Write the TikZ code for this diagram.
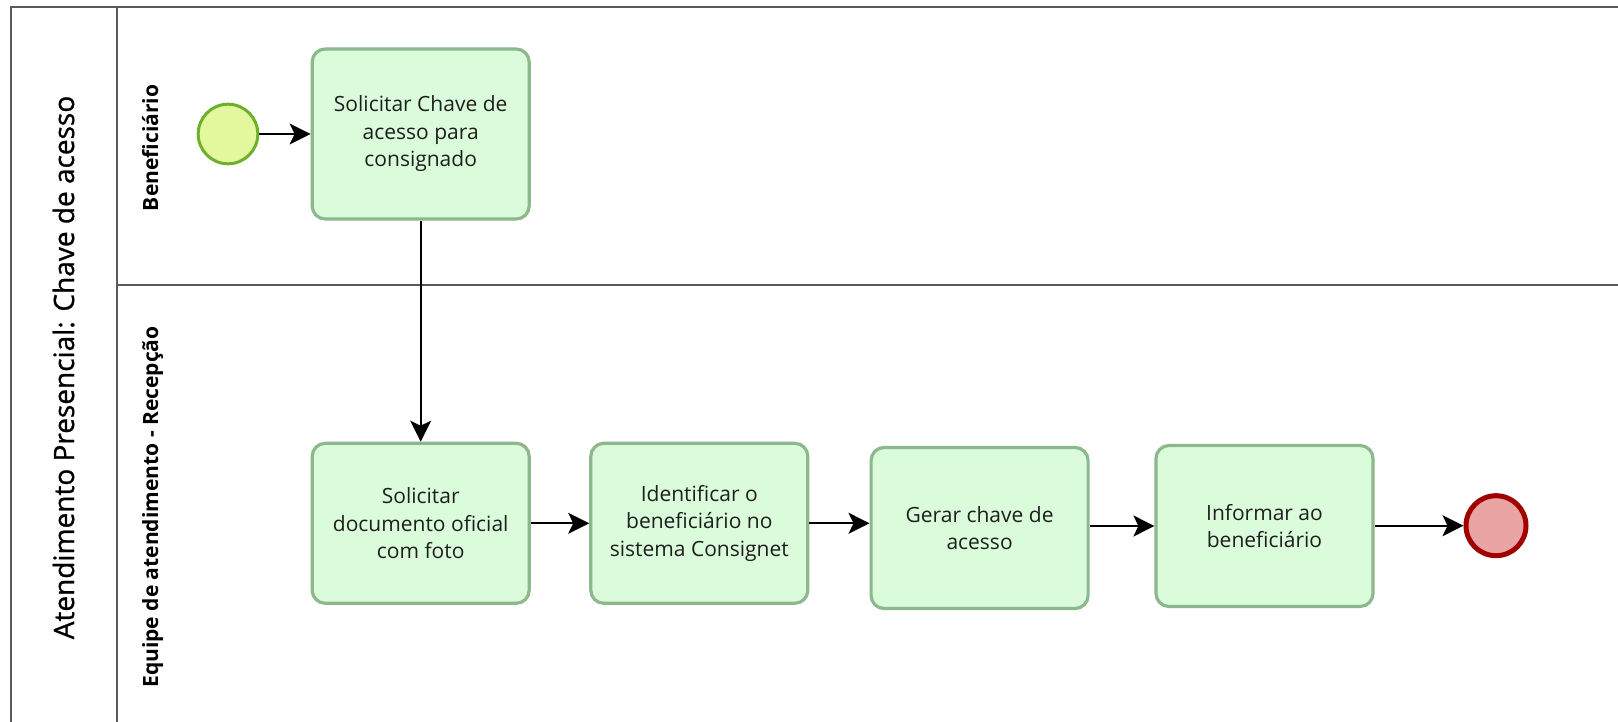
\documentclass[tikz,border=0pt]{standalone}
\usepackage{fontspec}
\setmainfont{Open Sans}
\newfontfamily\titlefont{Open Sans}[FakeBold=0.9]
\usetikzlibrary{arrows.meta}
\definecolor{taskfill}{HTML}{DAFCDA}
\definecolor{taskdraw}{HTML}{8DB78D}
\definecolor{startfill}{HTML}{E3F89D}
\definecolor{startdraw}{HTML}{6DB02C}
\definecolor{endfill}{HTML}{EBA4A4}
\definecolor{enddraw}{HTML}{A00000}
\definecolor{framecol}{HTML}{5A5A5A}
\definecolor{txt}{HTML}{1E1E1E}
\begin{document}
\begin{tikzpicture}[x=1pt,y=-1pt,
  task/.style={draw=taskdraw, fill=taskfill, line width=3.2pt, rounded corners=13pt,
    minimum width=217pt, minimum height=160pt, align=center, text=txt,
    font=\fontsize{21}{27.5}\selectfont, inner sep=0pt},
  startev/.style={circle, draw=startdraw, fill=startfill, line width=3pt, minimum size=59.6pt, inner sep=0pt},
  endev/.style={circle, draw=enddraw, fill=endfill, line width=5pt, minimum size=60pt, inner sep=0pt},
  flow/.style={draw=black, line width=2pt, -{Stealth[length=21pt,width=21pt,inset=5pt]}},
  framel/.style={draw=framecol, line width=2.2pt},
  lanelabel/.style={rotate=90, anchor=base, inner sep=0pt, text=black, font=\bfseries\fontsize{21}{25}\selectfont},
  pooltitle/.style={rotate=90, anchor=base, inner sep=0pt, text=black, font=\titlefont\fontsize{28}{32}\selectfont}]
\useasboundingbox (0,0) rectangle (1618,722);
\fill[white] (0,0) rectangle (1618,722);
% pool and lanes
\draw[framel] (11,724) -- (11,7) -- (1620,7);
\draw[framel] (117,7) -- (117,724);
\draw[framel] (117,285) -- (1620,285);
\node[pooltitle] (pool) at (74,367.5) {Atendimento Presencial: Chave de acesso};
\node[lanelabel] (lane1) at (158,148) {Beneficiário};
\node[lanelabel] (lane2) at (158,507) {Equipe de atendimento - Recepção};
% events and tasks
\node[startev] (start) at (228,134) {};
\node[task, minimum height=170pt] (t1) at (420.7,134) {Solicitar Chave de\\acesso para\\consignado};
\node[task] (t2) at (420.7,523.3) {Solicitar\\documento oficial\\com foto};
\node[task] (t3) at (699.3,523.3) {Identificar o\\beneficiário no\\sistema Consignet};
\node[task, minimum height=161pt] (t4) at (979.6,528) {Gerar chave de\\acesso};
\node[task, minimum height=161pt] (t5) at (1264.5,526) {Informar ao\\beneficiário};
\node[endev] (end) at (1496,525.7) {};
% flows
\draw[flow] (start) -- (t1);
\draw[flow] (t1.south) -- (t2.north);
\draw[flow] (t2.east) -- (t3.west);
\draw[flow] (t3.east) -- (t3.east -| t4.west);
\draw[flow] (t4.east |- t5.west) -- (t5.west);
\draw[flow] (t5.east |- end.west) -- (end.west);
\end{tikzpicture}
\end{document}
